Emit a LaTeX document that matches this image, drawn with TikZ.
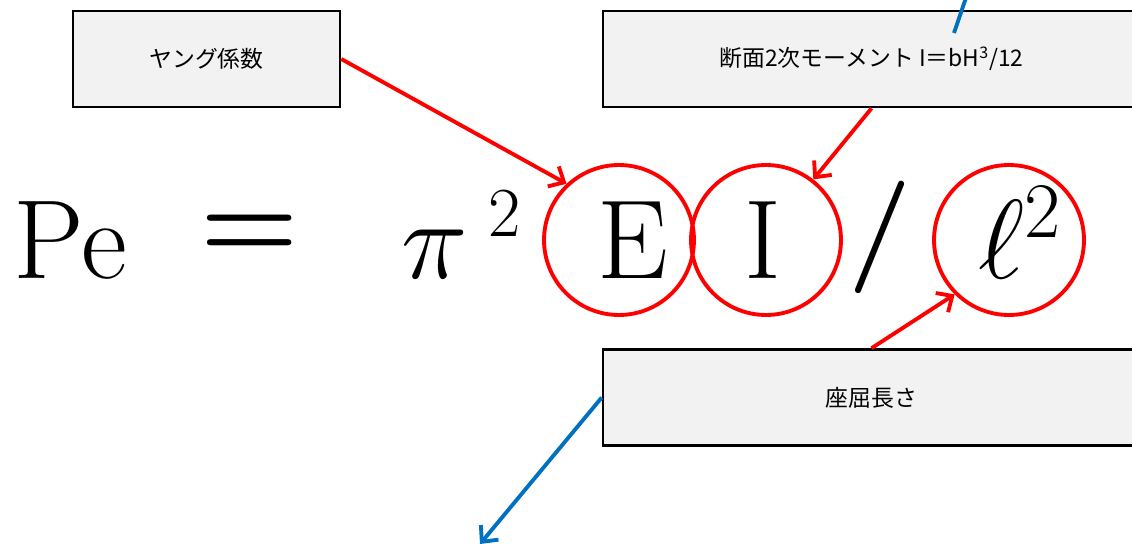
\RequirePackage{fix-cm}
\documentclass[tikz,border=0pt]{standalone}
\usepackage{fontspec}
\usepackage{amsmath}
\usepackage{xcolor}
\usepackage{tikz}
\usetikzlibrary{arrows.meta, positioning}
\newfontfamily\jpfont{Noto Sans CJK JP}
\definecolor{markred}{RGB}{255,0,0}
\definecolor{leadblue}{RGB}{0,112,192}
\definecolor{boxgray}{RGB}{242,242,242}
\newcommand{\bigfs}{\fontsize{64}{70}\selectfont}

\begin{document}
\begin{tikzpicture}[x=0.02cm, y=-0.02cm,
  labelbox/.style={draw, line width=1.5pt, fill=boxgray, inner sep=0pt,
    minimum height=1.92cm, font=\jpfont\fontsize{13}{15}\selectfont},
  ring/.style={circle, draw=markred, line width=2.2pt, minimum size=3cm},
  term/.style={inner sep=0pt, font=\bigfs},
  redarrow/.style={draw=markred, line width=2.2pt,
    -{Straight Barb[length=7pt, width=13pt]}},
  bluearrow/.style={draw=leadblue, line width=2.2pt,
    -{Straight Barb[length=7pt, width=13pt]}}]
  \useasboundingbox (0,0) rectangle (1132,544);

  % label boxes
  \node[labelbox, minimum width=5.34cm] (young) at (206.5,59) {ヤング係数};
  \node[labelbox, minimum width=10.74cm] (moment) at (871.5,59)
    {断面2次モーメント I＝bH\textsuperscript{3}/12};
  \node[labelbox, minimum width=10.74cm] (buckle) at (871.5,397.5) {座屈長さ};

  % formula
  \node[term, anchor=base] (pe) at (70,278) {Pe};
  \node[term] (eq) at (250,237) {$\boldsymbol{=}$};
  \node[term, anchor=base] (pi) at (435,278) {$\pi$};
  \node[term, anchor=base, font=\fontsize{40}{44}\selectfont] (pisq) at (505,236) {2};
  \node[term, anchor=base] (ee) at (633,278) {E};
  \node[term, anchor=base] (ii) at (763,278) {I};
  \node[term] (slash) at (880,237) {$\boldsymbol{/}$};
  \node[term, anchor=base] (ell) at (1020,278) {$\ell^2$};

  \node[ring] (cE) at (619,240) {};
  \node[ring] (cI) at (766,240) {};
  \node[ring] (cL) at (1009,240) {};

  % leaders
  \coordinate (topout) at (972,-20);
  \coordinate (topin) at (954,33);
  \coordinate (bottomout) at (480,544);
  \draw[redarrow] (young.east) -- (cE.133);
  \draw[redarrow] (moment.south) -- (cI.52);
  \draw[redarrow] (buckle.north) -- (cL.225);
  \draw[bluearrow] (topin) -- (topout);
  \draw[bluearrow] (buckle.west) -- (bottomout);
\end{tikzpicture}
\end{document}
